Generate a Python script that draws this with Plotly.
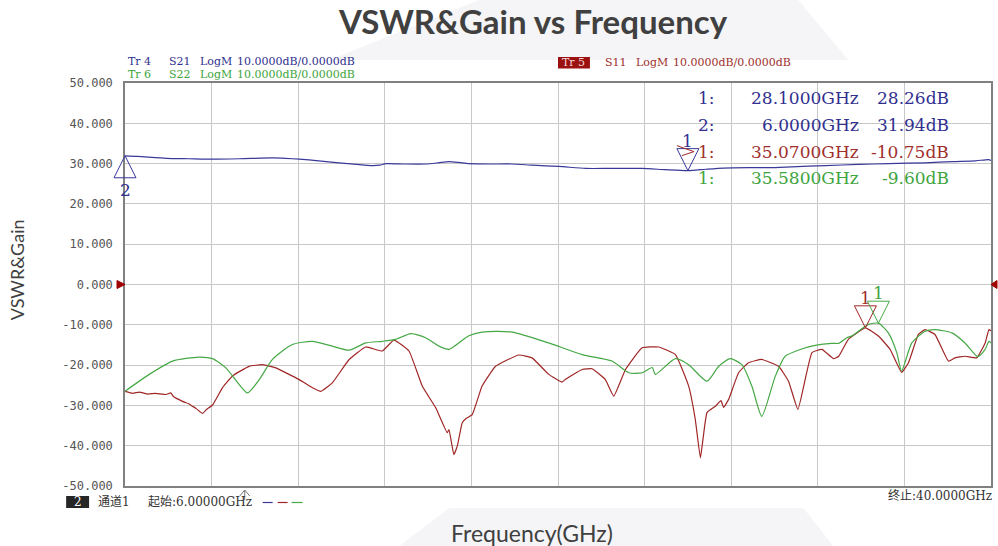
import plotly.graph_objects as go

# ---------------- data ----------------
F_START = 6.0
F_STOP = 40.0
X_DIVISIONS = 10
Y_TICKS = [50, 40, 30, 20, 10, 0, -10, -20, -30, -40, -50]
Y_TICK_TEXT = ["50.000", "40.000", "30.000", "20.000", "10.000", "0.000",
               "-10.000", "-20.000", "-30.000", "-40.000", "-50.000"]

s21_freq = [6.00, 6.50, 7.62, 8.50, 9.42, 10.50, 11.78, 12.30, 12.84, 13.60, 14.40, 15.10,
            15.70, 16.00, 16.25, 17.00, 17.82, 18.30, 18.72, 19.10, 19.50, 20.30, 21.19,
            22.00, 23.03, 24.09, 25.00, 26.29, 27.20, 28.10, 28.80, 29.50, 30.50, 31.30,
            32.17, 33.50, 34.80, 36.00, 37.43, 38.50, 39.40, 39.90, 40.00]
s21_db = [31.94, 31.80, 31.30, 31.20, 31.10, 31.20, 31.40, 31.30, 31.10, 30.70, 30.20, 29.80,
          29.50, 29.60, 30.00, 29.90, 29.90, 30.20, 30.50, 30.30, 30.00, 29.90, 29.90,
          29.60, 29.30, 28.80, 28.80, 28.80, 28.50, 28.26, 28.60, 28.90, 29.00, 29.00,
          29.20, 29.50, 29.80, 30.00, 30.20, 30.50, 30.70, 31.00, 30.80]

s11_freq = [6.00, 6.30, 6.56, 6.90, 7.20, 7.61, 7.80, 7.90, 8.26, 8.50, 8.65, 8.80, 9.04,
            9.20, 9.44, 9.83, 10.22, 10.87, 11.40, 11.92, 12.84, 13.36, 13.69, 14.14, 14.80,
            15.45, 16.10, 16.56, 17.15, 17.67, 18.20, 18.65, 18.72, 18.91, 19.05, 19.24,
            19.40, 19.63, 20.02, 20.55, 21.46, 21.98, 22.64, 23.16, 23.30, 23.95, 24.34,
            24.86, 25.19, 25.65, 26.30, 26.95, 27.61, 28.13, 28.39, 28.59, 28.70, 28.85,
            29.18, 29.40, 29.50, 29.70, 30.09, 30.48, 31.00, 31.66, 32.05, 32.42, 32.97,
            33.36, 33.82, 34.02, 34.40, 35.07, 35.58, 36.04, 36.49, 36.76, 37.15, 37.41,
            37.80, 38.33, 38.59, 38.98, 39.44, 39.77, 39.92, 40.00]
s11_db = [-26.5, -27.0, -26.7, -27.2, -27.0, -27.3, -26.9, -27.8, -29.0, -29.6, -30.2, -30.8,
          -32.0, -31.0, -29.9, -25.6, -22.7, -20.3, -19.9, -20.7, -23.6, -25.6, -26.5, -24.4,
          -18.6, -15.5, -16.5, -13.8, -16.5, -25.2, -30.6, -36.8, -36.0, -42.2, -40.0, -34.3,
          -33.2, -32.3, -25.2, -20.3, -17.5, -18.2, -22.3, -24.2, -23.5, -21.1, -20.9,
          -23.6, -27.7, -21.1, -15.7, -15.5, -17.4, -25.2, -33.5, -43.0, -38.0, -31.8,
          -30.2, -28.8, -30.5, -28.5, -21.9, -19.4, -18.6, -20.3, -24.0, -31.0, -16.9,
          -16.1, -18.4, -17.8, -13.6, -10.75, -12.8, -16.1, -21.8, -19.4, -12.4, -11.2,
          -12.4, -19.0, -18.2, -17.8, -18.2, -14.5, -11.2, -11.5]

s22_freq = [6.00, 6.95, 7.87, 8.91, 9.44, 9.96, 10.48, 10.81, 11.27, 11.79, 12.57, 13.36,
            14.14, 14.80, 15.45, 16.10, 16.63, 17.22, 17.80, 18.33, 18.72, 19.50, 20.02,
            21.20, 22.64, 23.95, 25.12, 25.78, 26.30, 26.70, 26.82, 27.61, 28.13, 28.85,
            29.31, 29.76, 30.22, 30.61, 31.00, 31.53, 31.92, 32.57, 33.10, 33.75, 34.02,
            34.34, 34.53, 35.19, 35.58, 35.97, 36.30, 36.49, 36.89, 37.41, 37.80, 38.46,
            38.98, 39.48, 39.77, 39.92, 40.00]
s22_db = [-26.5, -22.3, -19.0, -18.0, -18.4, -20.7, -24.8, -26.9, -23.6, -18.6, -14.9, -14.1,
          -15.3, -16.3, -14.5, -14.1, -13.6, -12.2, -13.2, -15.3, -16.1, -12.7, -11.8,
          -11.8, -14.5, -17.4, -19.0, -21.9, -21.9, -20.6, -22.3, -18.4, -19.9, -24.0,
          -20.3, -18.4, -19.9, -25.2, -32.7, -22.8, -17.8, -16.0, -15.1, -14.6, -14.6,
          -13.2, -12.8, -9.9, -9.6, -12.0, -16.9, -21.5, -14.5, -11.6, -11.2, -12.0,
          -14.5, -17.9, -16.1, -14.1, -14.5]

TRACE_NAMES = ["S21", "S11", "S22"]
TRACE_NUMBERS = ["Tr 4", "Tr 5", "Tr 6"]
TRACE_FORMAT = ["LogM", "LogM", "LogM"]
TRACE_SCALE = ["10.0000dB/0.0000dB", "10.0000dB/0.0000dB", "10.0000dB/0.0000dB"]

MARKER_TRACE = ["S21", "S21", "S11", "S22"]
MARKER_ID = ["1", "2", "1", "1"]
MARKER_FREQ = [28.10, 6.00, 35.07, 35.58]
MARKER_DB = [28.26, 31.94, -10.75, -9.60]

CHANNEL_ID = "2"
CHANNEL_NAME = "通道1"

# ---------------- style ----------------
COL = {"S21": "#39399a", "S11": "#a02626", "S22": "#45a845"}
TXT = {"S21": "#30308f", "S11": "#a0302c", "S22": "#3ea43e"}
MARKER_UP = [False, True, False, False]

W_FIG, H_FIG = 998, 546
L, R, T, B = 125, 993, 83, 486


def ax(p):
    return (p - L) / (R - L)


def ay(p):
    return (B - p) / (B - T)


def data_to_paper_x(f):
    return (f - F_START) / (F_STOP - F_START)


SERIF = "DejaVu Serif"
MONO = "DejaVu Sans Mono"
SANS = "Lato"

fig = go.Figure()
series = {"S21": (s21_freq, s21_db), "S11": (s11_freq, s11_db), "S22": (s22_freq, s22_db)}
smooth = {"S21": 0.6, "S11": 0.35, "S22": 0.6}
for name in ["S21", "S11", "S22"]:
    fx, fy = series[name]
    fig.add_trace(go.Scatter(x=fx, y=fy, mode="lines", name=name,
                             line=dict(color=COL[name], width=1.2, shape="spline",
                                       smoothing=smooth[name]),
                             showlegend=False, hoverinfo="skip"))

shapes = []
annotations = []

# background watermark
shapes.append(dict(type="path", xref="paper", yref="paper", layer="below",
                   path=f"M {ax(480)} {ay(0)} L {ax(800)} {ay(0)} L {ax(850)} {ay(60)} L {ax(330)} {ay(60)} Z",
                   fillcolor="#f5f5f7", line=dict(width=0)))
shapes.append(dict(type="path", xref="paper", yref="paper", layer="below",
                   path=f"M {ax(400)} {ay(546)} L {ax(450)} {ay(508)} L {ax(805)} {ay(508)} L {ax(835)} {ay(546)} Z",
                   fillcolor="#f5f5f7", line=dict(width=0)))

# markers (triangles)
for tr, mid, f, v, up in zip(MARKER_TRACE, MARKER_ID, MARKER_FREQ, MARKER_DB, MARKER_UP):
    if up:
        path = "M -11 -22 L 11 -22 L 0 0 Z"
        ysh = -34
    else:
        path = "M -11 22 L 11 22 L 0 0 Z"
        ysh = 30
    shapes.append(dict(type="path", xref="paper", yref="y", xsizemode="pixel", ysizemode="pixel",
                       xanchor=data_to_paper_x(f), yanchor=v, path=path,
                       line=dict(color=COL[tr], width=1), fillcolor="rgba(0,0,0,0)"))
    annotations.append(dict(x=f, y=v, xref="x", yref="y", yshift=ysh, text=mid, showarrow=False,
                            font=dict(family=SERIF, size=17, color=TXT[tr])))

# active-marker pointer (red) next to marker 1 of S21
shapes.append(dict(type="path", xref="paper", yref="y", xsizemode="pixel", ysizemode="pixel",
                   xanchor=data_to_paper_x(MARKER_FREQ[0]), yanchor=MARKER_DB[0],
                   path="M -11 25 L 6 19 L -6 15", line=dict(color=COL["S11"], width=1)))

# reference level indicators at 0 dB
shapes.append(dict(type="path", xref="paper", yref="y", xsizemode="pixel", ysizemode="pixel",
                   xanchor=0, yanchor=0, path="M -8 4 L 0 0 L -8 -4 Z",
                   fillcolor="#a00000", line=dict(color="#a00000", width=1)))
shapes.append(dict(type="path", xref="paper", yref="y", xsizemode="pixel", ysizemode="pixel",
                   xanchor=1, yanchor=0, path="M 0 0 L 6 4 L 6 -4 Z",
                   fillcolor="#a00000", line=dict(color="#a00000", width=1)))

# trace headers
HDR_SIZE = 11
header_pos = {"S21": (126, 61.8), "S22": (126, 74.6), "S11": (604, 62.3)}
for tnum, name, fmt, scale in zip(TRACE_NUMBERS, TRACE_NAMES, TRACE_FORMAT, TRACE_SCALE):
    x0, y0 = header_pos[name]
    if name == "S11":
        shapes.append(dict(type="rect", xref="paper", yref="paper",
                           x0=ax(559), x1=ax(591), y0=ay(57), y1=ay(68.5),
                           fillcolor="#9b1010", line=dict(width=0)))
        annotations.append(dict(x=ax(575), y=ay(62.5), xref="paper", yref="paper", text=tnum,
                                showarrow=False, xanchor="center", yanchor="middle",
                                font=dict(family=SERIF, size=HDR_SIZE, color="#f4d8d8")))
    else:
        annotations.append(dict(x=ax(x0), y=ay(y0), xref="paper", yref="paper", text=tnum,
                                showarrow=False, xanchor="left", yanchor="middle",
                                font=dict(family=SERIF, size=HDR_SIZE, color=TXT[name])))
        x0 = 167
    for txt, dx in [(name, 0), (fmt, 31), (scale, 68)]:
        annotations.append(dict(x=ax(x0 + dx), y=ay(y0), xref="paper", yref="paper", text=txt,
                                showarrow=False, xanchor="left", yanchor="middle",
                                font=dict(family=SERIF, size=HDR_SIZE, color=TXT[name])))

# marker readout table
row_y = [98.5, 125, 151.5, 178]
for i, (tr, mid, f, v) in enumerate(zip(MARKER_TRACE, MARKER_ID, MARKER_FREQ, MARKER_DB)):
    y = row_y[i]
    for txt, xr in [(f"{mid}:", 718), (f"{f:.4f}GHz", 863), (f"{v:.2f}dB", 953)]:
        annotations.append(dict(x=ax(xr), y=ay(y), xref="paper", yref="paper", text=txt,
                                showarrow=False, xanchor="right", yanchor="middle",
                                font=dict(family=SERIF, size=17, color=TXT[tr])))

# status bar
shapes.append(dict(type="rect", xref="paper", yref="paper", x0=ax(66), x1=ax(89),
                   y0=ay(496), y1=ay(508), fillcolor="#262626", line=dict(width=0)))
annotations.append(dict(x=ax(77.5), y=ay(502), xref="paper", yref="paper", text=CHANNEL_ID,
                        showarrow=False, xanchor="center", yanchor="middle",
                        font=dict(family=SERIF, size=12, color="#ffffff")))
annotations.append(dict(x=ax(96), y=ay(502), xref="paper", yref="paper", text=CHANNEL_NAME,
                        showarrow=False, xanchor="left", yanchor="middle",
                        font=dict(family=f"{SERIF}, Noto Sans CJK SC", size=12, color="#333333")))
annotations.append(dict(x=ax(146), y=ay(502), xref="paper", yref="paper",
                        text=f"起始:{F_START:.5f}GHz",
                        showarrow=False, xanchor="left", yanchor="middle",
                        font=dict(family=f"{SERIF}, Noto Sans CJK SC", size=12, color="#333333")))
annotations.append(dict(x=ax(996), y=ay(495), xref="paper", yref="paper",
                        text=f"终止:{F_STOP:.4f}GHz",
                        showarrow=False, xanchor="right", yanchor="middle",
                        font=dict(family=f"{SERIF}, Noto Sans CJK SC", size=12, color="#333333")))
for name, (xa, xb) in zip(["S21", "S11", "S22"], [(263, 273), (278, 288), (292, 303)]):
    shapes.append(dict(type="line", xref="paper", yref="paper", x0=ax(xa), x1=ax(xb),
                       y0=ay(502.5), y1=ay(502.5), line=dict(color=COL[name], width=1.2)))
# start stimulus arrow
shapes.append(dict(type="path", xref="paper", yref="paper",
                   path=f"M {ax(240)} {ay(496)} L {ax(245)} {ay(490)} L {ax(250)} {ay(496)} "
                        f"M {ax(245)} {ay(490)} L {ax(245)} {ay(500)}",
                   line=dict(color="#777777", width=1)))

# axis titles
annotations.append(dict(x=ax(17), y=ay(270), xref="paper", yref="paper", text="VSWR&Gain",
                        textangle=-90, showarrow=False, xanchor="center", yanchor="middle",
                        font=dict(family=SANS, size=18, color="#404040")))
annotations.append(dict(x=ax(533), y=ay(533), xref="paper", yref="paper", text="Frequency(GHz)",
                        showarrow=False, xanchor="center", yanchor="middle",
                        font=dict(family=SANS, size=23, color="#404040")))

fig.update_layout(
    width=W_FIG, height=H_FIG,
    margin=dict(l=L, r=W_FIG - R, t=T, b=H_FIG - B, pad=0),
    paper_bgcolor="#ffffff", plot_bgcolor="#ffffff",
    title=dict(text="<b>VSWR&Gain vs Frequency</b>", x=533 / W_FIG, y=1 - 22 / H_FIG,
               xref="container", yref="container", xanchor="center", yanchor="middle",
               font=dict(family=SANS, size=33, color="#404040")),
    xaxis=dict(range=[F_START, F_STOP], tick0=F_START, dtick=(F_STOP - F_START) / X_DIVISIONS,
               showticklabels=False, ticks="", showgrid=True, gridcolor="#c8c8c8", gridwidth=1,
               zeroline=False, showline=True, linecolor="#808080", linewidth=1.5, mirror=True,
               fixedrange=True),
    yaxis=dict(range=[Y_TICKS[-1], Y_TICKS[0]], tickmode="array", tickvals=Y_TICKS,
               ticktext=Y_TICK_TEXT, ticks="", ticklabelstandoff=8,
               tickfont=dict(family=MONO, size=12, color="#555555"),
               showgrid=True, gridcolor="#c8c8c8", gridwidth=1, zeroline=False,
               showline=True, linecolor="#808080", linewidth=1.5, mirror=True, fixedrange=True),
    shapes=shapes,
    annotations=annotations,
)

fig.write_html("out.html", config={"displayModeBar": False},
               post_script="document.body.style.margin='0';document.body.style.overflow='hidden';")
